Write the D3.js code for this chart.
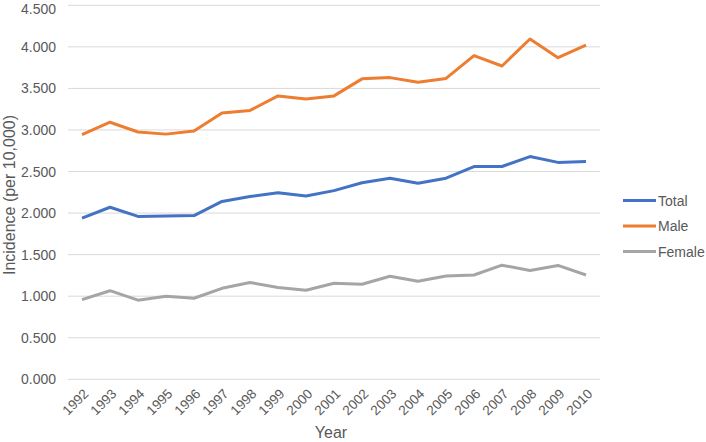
<!DOCTYPE html>
<html>
<head>
<meta charset="utf-8">
<script src="https://cdn.jsdelivr.net/npm/d3@7"></script>
<style>
  body { margin: 0; background: #fff; }
  text { font-family: "Liberation Sans", Arial, sans-serif; fill: #595959; }
</style>
</head>
<body>
<div id="chart"></div>
<script>
const years = ["1992","1993","1994","1995","1996","1997","1998","1999","2000","2001",
  "2002","2003","2004","2005","2006","2007","2008","2009","2010"];
const total = [1.94, 2.07, 1.96, 1.965, 1.97, 2.14, 2.20, 2.245, 2.205, 2.27,
  2.365, 2.42, 2.36, 2.42, 2.56, 2.56, 2.68, 2.61, 2.62];
const male = [2.945, 3.093, 2.976, 2.95, 2.988, 3.205, 3.235, 3.41, 3.373, 3.41,
  3.615, 3.63, 3.575, 3.62, 3.895, 3.77, 4.095, 3.87, 4.02];
const female = [0.958, 1.066, 0.952, 1.0, 0.975, 1.095, 1.165, 1.105, 1.071, 1.155,
  1.143, 1.24, 1.18, 1.243, 1.255, 1.373, 1.31, 1.37, 1.255];
const yTicks = [0, 0.5, 1, 1.5, 2, 2.5, 3, 3.5, 4, 4.5];

const series = [
  { name: "Total", values: total, color: "#4472C4" },
  { name: "Male", values: male, color: "#ED7D31" },
  { name: "Female", values: female, color: "#A5A5A5" }
];

const width = 706, height = 442;
const plotLeft = 68, plotRight = 600, plotTop = 5.3, plotBottom = 379.3;

const svg = d3.select("#chart").append("svg")
  .attr("width", width)
  .attr("height", height);

const x = d3.scaleBand().domain(years).range([plotLeft, plotRight]);
const y = d3.scaleLinear().domain([0, 4.5]).range([plotBottom, plotTop]);

// gridlines
svg.append("g")
  .selectAll("line")
  .data(yTicks)
  .join("line")
  .attr("x1", plotLeft).attr("x2", plotRight)
  .attr("y1", d => y(d)).attr("y2", d => y(d))
  .attr("stroke", "#d9d9d9")
  .attr("stroke-width", 1);

// y tick labels (top one nudged down so it isn't clipped)
svg.append("g")
  .selectAll("text")
  .data(yTicks)
  .join("text")
  .attr("x", plotLeft - 12)
  .attr("y", d => Math.max(y(d) + 5, 13.5))
  .attr("text-anchor", "end")
  .style("font-size", "14px")
  .text(d => d3.format(".3f")(d));

// x tick labels, rotated
svg.append("g")
  .selectAll("text")
  .data(years)
  .join("text")
  .attr("transform", d => "translate(" + (x(d) + x.bandwidth() / 2 + 4) + "," + (plotBottom + 12) + ") rotate(-45)")
  .attr("text-anchor", "end")
  .attr("dy", "0.35em")
  .style("font-size", "13.5px")
  .text(d => d);

// axis titles
svg.append("text")
  .attr("transform", "translate(15,195) rotate(-90)")
  .attr("text-anchor", "middle")
  .style("font-size", "16px")
  .text("Incidence (per 10,000)");

svg.append("text")
  .attr("x", 331)
  .attr("y", 438)
  .attr("text-anchor", "middle")
  .style("font-size", "16px")
  .text("Year");

// lines
const line = d3.line()
  .x((d, i) => x(years[i]) + x.bandwidth() / 2)
  .y(d => y(d));

svg.append("g")
  .selectAll("path")
  .data(series)
  .join("path")
  .attr("d", d => line(d.values))
  .attr("fill", "none")
  .attr("stroke", d => d.color)
  .attr("stroke-width", 3)
  .attr("stroke-linejoin", "round");

// legend
const legend = svg.append("g")
  .selectAll("g")
  .data(series)
  .join("g")
  .attr("transform", (d, i) => "translate(623," + (200.5 + i * 25.5) + ")");

legend.append("line")
  .attr("x1", 0).attr("x2", 33)
  .attr("stroke", d => d.color)
  .attr("stroke-width", 3);

legend.append("text")
  .attr("x", 35)
  .attr("y", 5)
  .style("font-size", "14px")
  .text(d => d.name);
</script>
</body>
</html>
